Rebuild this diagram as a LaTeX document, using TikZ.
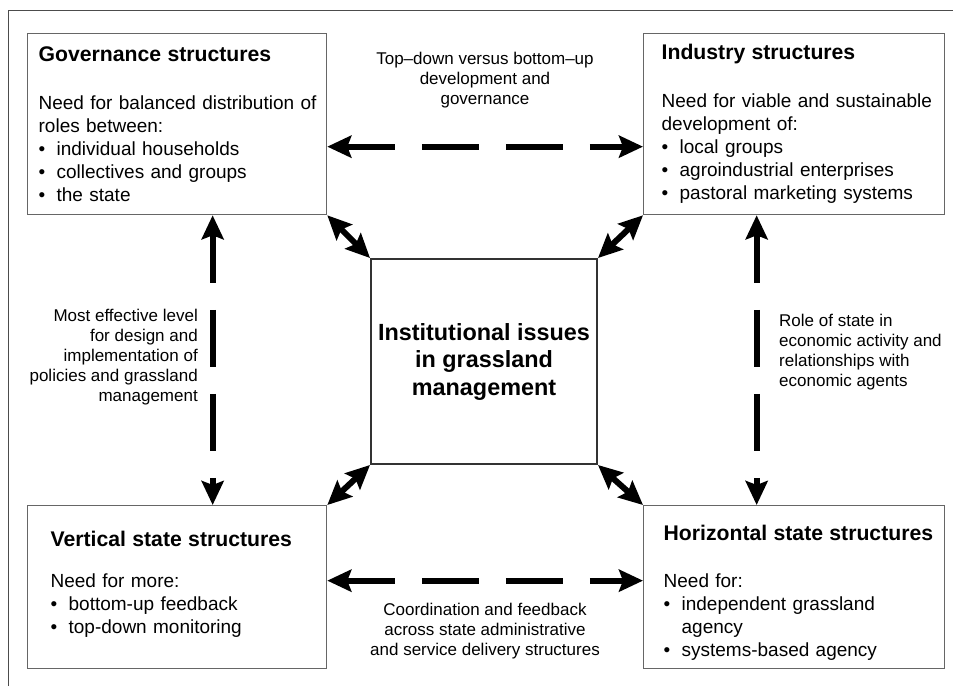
\documentclass[tikz,border=0pt]{standalone}
\usepackage{fontspec}
\setmainfont{Liberation Sans}
\usetikzlibrary{arrows.meta}
\newcommand{\boxtitle}[1]{{\fontsize{21.2}{23}\selectfont\bfseries #1}}
\newcommand{\itm}{\makebox[18pt][l]{•}}

\begin{document}
\begin{tikzpicture}[x=1pt,y=-1pt,font=\fontsize{19}{23}\selectfont,
 box/.style n args={3}{draw=black!60,line width=1.3pt,rectangle,anchor=north west,align=left,inner sep=0pt,
   minimum width=#1,text width=#1,minimum height=#2,execute at begin node={\parindent=0pt\leftskip=#3\relax}},
 core/.style={draw=black!80,line width=2pt,rectangle,align=center,minimum width=226pt,minimum height=205pt,
   font=\fontsize{23.4}{27.5}\selectfont\bfseries},
 lab/.style={inner sep=0pt,font=\fontsize{17}{20}\selectfont},
 link/.style={line width=6pt,{Stealth[length=24pt,width=22pt,inset=4pt]}-{Stealth[length=24pt,width=22pt,inset=4pt]}},
 dlink/.style={link,dash pattern=on 57pt off 27pt,dash phase=8pt}]
\useasboundingbox (0,0) rectangle (953,686);
\draw[black!70,line width=1pt] (8,686) -- (8,10) -- (953,10);
% the four corner boxes and the core
\node[box={299pt}{181pt}{11pt}] (gov) at (27,33) {\boxtitle{Governance structures}\\[25pt]
 Need for balanced distribution of\\ roles between:\\ \itm individual households\\ \itm collectives and groups\\ \itm the state};
\node[box={301pt}{181pt}{18pt}] (ind) at (643,33) {\boxtitle{Industry structures}\\[25pt]
 Need for viable and sustainable\\ development of:\\ \itm local groups\\ \itm agroindustrial enterprises\\ \itm pastoral marketing systems};
\node[box={299pt}{163pt}{23pt}] (vert) at (27,505) {\boxtitle{Vertical state structures}\\[18pt]
 Need for more:\\ \itm bottom-up feedback\\ \itm top-down monitoring\\[-13pt]\mbox{}};
\node[box={301pt}{163pt}{20pt}] (hor) at (643,505) {\boxtitle{\rule{0pt}{27.5pt}Horizontal state structures}\\[24pt]
 Need for:\\ \itm independent grassland\\ \hspace*{18pt}agency\\ \itm systems-based agency};
\node[core] (core) at (484,361.5) {Institutional issues\\ in grassland\\ management};
% labels on the dashed links
\node[lab,align=center] (toplab) at (485,80) {Top–down versus bottom–up\\ development and\\ governance};
\node[lab,align=right,anchor=east] (leftlab) at (198,357) {Most effective level\\ for design and\\ implementation of\\ policies and grassland\\ management};
\node[lab,align=left,anchor=west] (rightlab) at (779,352) {Role of state in\\ economic activity and\\ relationships with\\ economic agents};
\node[lab,align=center] (botlab) at (485,631) {Coordination and feedback\\ across state administrative\\ and service delivery structures};
% links
\draw[link] (gov.south east) -- (core.north west);
\draw[link] (ind.south west) -- (core.north east);
\draw[link] (vert.north east) -- (core.south west);
\draw[link] (hor.north west) -- (core.south east);
\draw[dlink] ([yshift=-22.5pt]gov.east) -- ([yshift=-22.5pt]ind.west);
\draw[dlink] ([yshift=6.5pt]vert.east) -- ([yshift=6.5pt]hor.west);
\draw[dlink] ([xshift=35.5pt]gov.south) -- ([xshift=35.5pt]vert.north);
\draw[dlink] ([xshift=-37.5pt]ind.south) -- ([xshift=-37.5pt]hor.north);
\end{tikzpicture}
\end{document}
